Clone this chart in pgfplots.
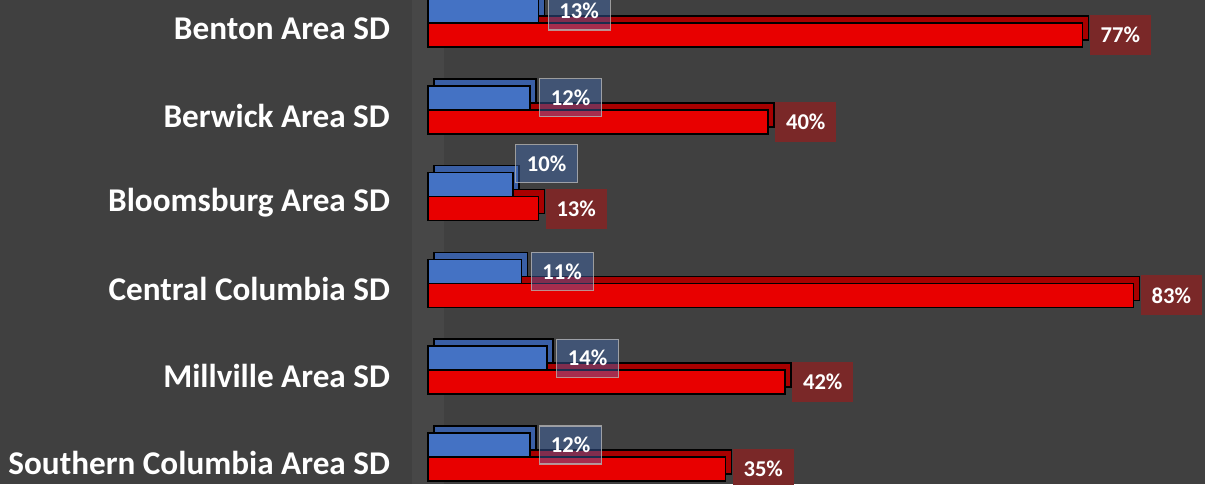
\documentclass[border=0pt]{standalone}
\usepackage{pgfplots}
\pgfplotsset{compat=1.18}
\usepackage{pgfplotstable}
\usepackage{fontspec}
\setmainfont{Carlito}

\definecolor{bgdark}{HTML}{404040}
\definecolor{wallgray}{HTML}{474747}
\definecolor{bluefront}{HTML}{4472C4}
\definecolor{blueback}{HTML}{3A5FA5}
\definecolor{redfront}{HTML}{E80000}
\definecolor{redback}{HTML}{A80000}
\definecolor{redlabel}{HTML}{7A2828}
\definecolor{boxedge}{HTML}{B4B4B4}

% idx 5 = top row; bdy/bdx = nudge of the blue label (pt)
\pgfplotstableread{
idx blue red bdy bdx
5   13   77  0    0
4   12   40  0    0
3   10   13  10.5 -3.5
2   11   83  0    0
1   14   42  0    0
0   12   35  0    0
}\schools

\begin{document}
\begin{tikzpicture}
\useasboundingbox (0,0) rectangle (602.5pt,242pt);
\clip (0,0) rectangle (602.5pt,242pt);
\fill[bgdark] (0,0) rectangle (602.5pt,242pt);
\fill[wallgray] (206pt,0) rectangle (222pt,242pt);
\begin{axis}[
    at={(214pt,0pt)}, anchor=south west,
    scale only axis, width=388.5pt, height=242pt,
    xmin=0, xmax=91.4, ymin=-0.311, ymax=5.265,
    xbar, bar width=12pt,
    axis line style={draw=none}, major tick length=0pt,
    xtick=\empty,
    ytick={0,1,2,3,4,5},
    yticklabels={Southern Columbia Area SD, Millville Area SD, Central Columbia SD,
                 Bloomsburg Area SD, Berwick Area SD, Benton Area SD},
    yticklabel style={font=\fontsize{16.6}{20}\selectfont\bfseries, text=white,
                      yshift=-3pt, xshift=-15.5pt},
    clip=false,
    point meta=x,
    /pgf/number format/assume math mode=true,
]
% red: back face then front
\addplot[draw=black, line width=0.8pt, fill=redback, bar shift=-6pt,
         xshift=3pt, yshift=3.5pt] table[x=red, y=idx] \schools;
\addplot[draw=black, line width=0.8pt, fill=redfront, bar shift=-6pt,
         nodes near coords={\pgfmathprintnumber{\pgfplotspointmeta}\%},
         every node near coord/.style={anchor=west, xshift=3.2pt, yshift=-6pt,
            fill=redlabel, text=white, minimum width=30.5pt, minimum height=20pt,
            inner sep=0pt, font=\fontsize{11.3}{13}\selectfont\bfseries}]
    table[x=red, y=idx] \schools;
% blue: back face then front
\addplot[draw=black, line width=0.8pt, fill=blueback, bar shift=6pt,
         xshift=3pt, yshift=3.5pt] table[x=blue, y=idx] \schools;
\addplot[draw=black, line width=0.8pt, fill=bluefront, bar shift=6pt,
         visualization depends on={\thisrow{bdy} \as \labdy},
         visualization depends on={\thisrow{bdx} \as \labdx},
         nodes near coords={\pgfmathprintnumber{\pgfplotspointmeta}\%},
         every node near coord/.style={anchor=west,
            xshift=4.5pt+\labdx pt, yshift=6pt+\labdy pt,
            fill=bluefront, fill opacity=0.4, text opacity=1,
            draw=boxedge, draw opacity=0.8, line width=0.6pt,
            text=white, minimum width=31pt, minimum height=19pt,
            inner sep=0pt, font=\fontsize{11.3}{13}\selectfont\bfseries}]
    table[x=blue, y=idx] \schools;
\end{axis}
\end{tikzpicture}
\end{document}
